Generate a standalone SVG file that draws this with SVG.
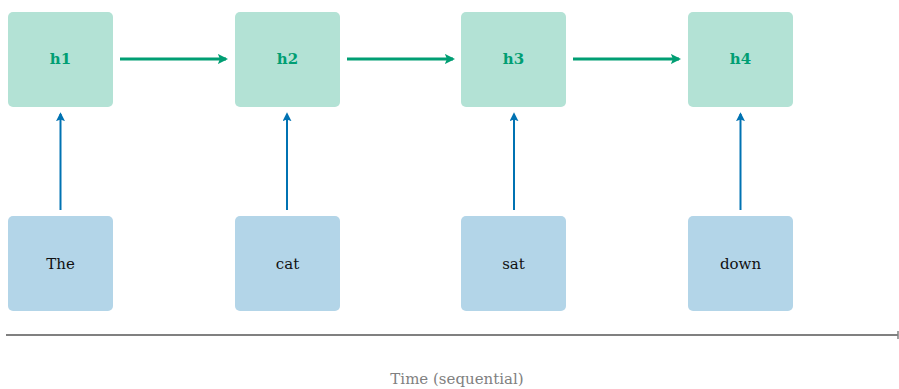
<svg xmlns="http://www.w3.org/2000/svg" width="899" height="389" viewBox="0 0 899 389">
  <defs>
    <style>
      .hid { fill: #b3e2d5; }
      .tok { fill: #b3d5e8; }
      .hlab { font-family: "DejaVu Serif", serif; font-size: 15px; font-weight: bold; fill: #009e73; text-anchor: middle; dominant-baseline: central; }
      .tlab { font-family: "DejaVu Serif", serif; font-size: 15px; fill: #111111; text-anchor: middle; dominant-baseline: central; }
      .rec { stroke: #009e73; stroke-width: 3; fill: none; marker-end: url(#ag); }
      .inp { stroke: #0072b2; stroke-width: 2; fill: none; marker-end: url(#ab); }
      .axis { stroke: #808080; stroke-width: 2; fill: none; }
      .axlab { font-family: "DejaVu Serif", serif; font-size: 15px; fill: #808080; text-anchor: middle; }
    </style>
    <marker id="ag" viewBox="0 0 10 10" refX="8" refY="5" markerWidth="3.4" markerHeight="3.4" orient="auto" markerUnits="strokeWidth">
      <path d="M0,0 L10,5 L0,10 L2,5 Z" fill="#009e73"/>
    </marker>
    <marker id="ab" viewBox="0 0 10 10" refX="8" refY="5" markerWidth="4.5" markerHeight="4.5" orient="auto" markerUnits="strokeWidth">
      <path d="M0,0 L10,5 L0,10 L2,5 Z" fill="#0072b2"/>
    </marker>
  </defs>

  <g id="connectors">
    <line class="rec" x1="120" y1="59" x2="226" y2="59"/>
    <line class="rec" x1="347" y1="59" x2="453" y2="59"/>
    <line class="rec" x1="573" y1="59" x2="679" y2="59"/>
    <line class="inp" x1="60.5" y1="210" x2="60.5" y2="114"/>
    <line class="inp" x1="287" y1="210" x2="287" y2="114"/>
    <line class="inp" x1="514" y1="210" x2="514" y2="114"/>
    <line class="inp" x1="740.5" y1="210" x2="740.5" y2="114"/>
  </g>

  <g id="h1"><rect class="hid" x="8" y="12" width="105" height="95" rx="5"/><text class="hlab" x="60.5" y="59">h1</text></g>
  <g id="h2"><rect class="hid" x="235" y="12" width="105" height="95" rx="5"/><text class="hlab" x="287.5" y="59">h2</text></g>
  <g id="h3"><rect class="hid" x="461" y="12" width="105" height="95" rx="5"/><text class="hlab" x="513.5" y="59">h3</text></g>
  <g id="h4"><rect class="hid" x="688" y="12" width="105" height="95" rx="5"/><text class="hlab" x="740.5" y="59">h4</text></g>

  <g id="w1"><rect class="tok" x="8" y="216" width="105" height="95" rx="5"/><text class="tlab" x="60.5" y="263.5">The</text></g>
  <g id="w2"><rect class="tok" x="235" y="216" width="105" height="95" rx="5"/><text class="tlab" x="287.5" y="263.5">cat</text></g>
  <g id="w3"><rect class="tok" x="461" y="216" width="105" height="95" rx="5"/><text class="tlab" x="513.5" y="263.5">sat</text></g>
  <g id="w4"><rect class="tok" x="688" y="216" width="105" height="95" rx="5"/><text class="tlab" x="740.5" y="263.5">down</text></g>

  <g id="time-axis">
    <line class="axis" x1="6" y1="335" x2="898" y2="335"/>
    <line stroke="#808080" stroke-width="1.5" x1="898" y1="331" x2="898" y2="339"/>
    <text class="axlab" x="457" y="384">Time (sequential)</text>
  </g>
</svg>
